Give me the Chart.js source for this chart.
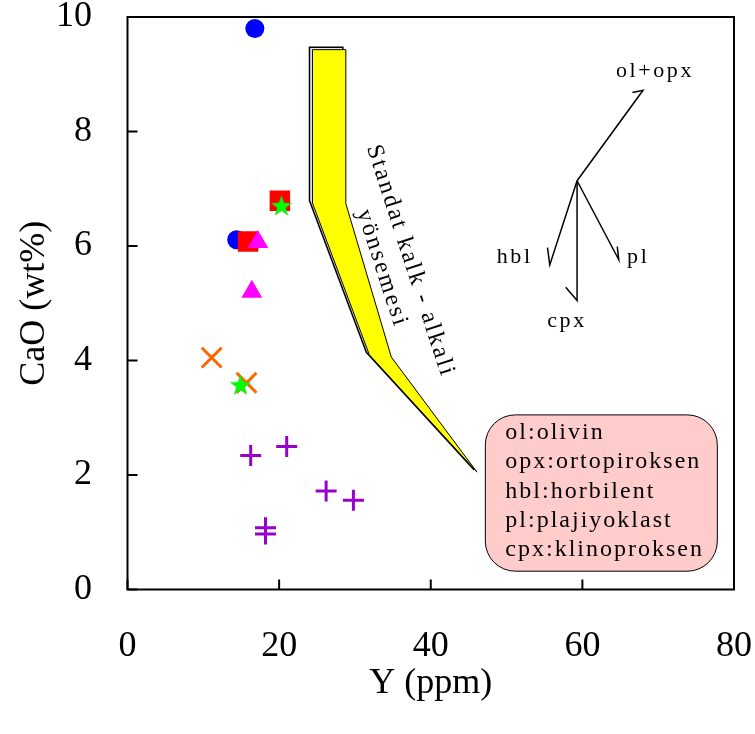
<!DOCTYPE html>
<html>
<head>
<meta charset="utf-8">
<script src="https://cdn.jsdelivr.net/npm/chart.js@4.4.0/dist/chart.umd.min.js"></script>
<style>
  html, body { margin: 0; padding: 0; background: #fff; }
</style>
</head>
<body>
<canvas id="chart" width="755" height="734"></canvas>
<script>
// Y (ppm) / CaO (wt%) per sample group
const circleY = [16.8, 14.4];
const circleCaO = [9.80, 6.11];
const squareY = [20.1, 15.9];
const squareCaO = [6.79, 6.08];
const triangleY = [17.2, 16.4];
const triangleCaO = [6.07, 5.20];
const starY = [20.3, 14.9];
const starCaO = [6.69, 3.56];
const crossY = [11.1, 15.7];
const crossCaO = [4.05, 3.61];
const plusY = [16.25, 21.0, 26.2, 29.8, 18.2, 18.2];
const plusCaO = [2.34, 2.50, 1.72, 1.56, 1.08, 0.97];

// calc-alkaline trend band outline
const bandY = [24.4, 24.4, 31.9, 46.1, 34.8, 28.8, 28.8];
const bandCaO = [9.43, 6.75, 4.10, 2.05, 4.06, 6.74, 9.43];

// fractionation vectors: start (centre) -> tip -> half arrow head
const vecCentre = [59.3, 7.14];
const vecNames = ['ol+opx', 'hbl', 'cpx', 'pl'];
const vecTipY = [68.0, 55.7, 59.3, 64.8];
const vecTipCaO = [8.72, 5.67, 5.05, 5.76];
const vecHeadY = [66.6, 55.4, 57.8, 64.6];
const vecHeadCaO = [8.68, 5.97, 5.28, 5.99];
const vecLabelY = [69.4, 50.9, 57.8, 67.2];
const vecLabelCaO = [9.06, 5.80, 4.69, 5.81];

const xTicks = [0, 20, 40, 60, 80];
const yTicks = [0, 2, 4, 6, 8, 10];

const legendLines = ['ol:olivin', 'opx:ortopiroksen', 'hbl:horbilent', 'pl:plajiyoklast', 'cpx:klinoproksen'];
const trendText = ['Standat kalk - alkali', 'yönsemesi'];

const pts = (xs, ys) => xs.map((x, i) => ({ x: x, y: ys[i] }));
const SERIF = '"Liberation Serif", "Times New Roman", serif';

// filled five point star for the green group
function makeStar(r, color) {
  const c = document.createElement('canvas');
  const s = Math.ceil(r * 2 + 2);
  c.width = s; c.height = s;
  const g = c.getContext('2d');
  g.beginPath();
  for (let i = 0; i < 10; i++) {
    const rad = i % 2 === 0 ? r : r * 0.4;
    const a = -Math.PI / 2 + i * Math.PI / 5;
    const px = s / 2 + rad * Math.cos(a), py = s / 2 + rad * Math.sin(a);
    if (i === 0) g.moveTo(px, py); else g.lineTo(px, py);
  }
  g.closePath();
  g.fillStyle = color;
  g.fill();
  g.strokeStyle = '#22cc22';
  g.lineWidth = 0.6;
  g.stroke();
  return c;
}

function spacedText(ctx, str, x, y, sp, align) {
  const chars = [...str];
  const w = chars.reduce((s, c) => s + ctx.measureText(c).width, 0) + sp * (chars.length - 1);
  let cx = align === 'center' ? x - w / 2 : (align === 'right' ? x - w : x);
  ctx.textAlign = 'left';
  for (const c of chars) {
    ctx.fillText(c, cx, y);
    cx += ctx.measureText(c).width + sp;
  }
}

function polygon(ctx, xs, ys, dx, dy) {
  ctx.beginPath();
  xs.forEach((p, i) => {
    if (i === 0) ctx.moveTo(p + dx, ys[i] + dy); else ctx.lineTo(p + dx, ys[i] + dy);
  });
  ctx.closePath();
}

const decor = {
  id: 'decor',
  beforeDatasetsDraw(chart) {
    const { ctx, scales: { x, y } } = chart;
    ctx.save();
    // trend band with its offset back face
    const bx = bandY.map(v => x.getPixelForValue(v));
    const by = bandCaO.map(v => y.getPixelForValue(v));
    polygon(ctx, bx, by, -3, -2.5);
    ctx.fillStyle = '#e6e6e6';
    ctx.fill();
    ctx.strokeStyle = '#000';
    ctx.lineWidth = 1.5;
    ctx.stroke();
    polygon(ctx, bx, by, 0, 0);
    ctx.fillStyle = '#ffff00';
    ctx.fill();
    ctx.lineWidth = 1;
    ctx.stroke();

    // rotated trend caption
    ctx.fillStyle = '#000';
    ctx.font = '24px ' + SERIF;
    ctx.textBaseline = 'middle';
    const rot = 72 * Math.PI / 180;
    [[410, 260], [381.7, 267.3]].forEach((c, i) => {
      ctx.save();
      ctx.translate(c[0], c[1]);
      ctx.rotate(rot);
      spacedText(ctx, trendText[i], 0, 0, 2.4, 'center');
      ctx.restore();
    });

    // vector labels
    ctx.font = '22px ' + SERIF;
    vecNames.forEach((n, i) => {
      spacedText(ctx, n, x.getPixelForValue(vecLabelY[i]), y.getPixelForValue(vecLabelCaO[i]), 2.6, 'center');
    });

    // mineral key box
    const l = x.getPixelForValue(47.2), r = x.getPixelForValue(77.8);
    const t = y.getPixelForValue(3.05), b = y.getPixelForValue(0.32);
    const rad = 30;
    ctx.beginPath();
    ctx.moveTo(l + rad, t);
    ctx.arcTo(r, t, r, b, rad);
    ctx.arcTo(r, b, l, b, rad);
    ctx.arcTo(l, b, l, t, rad);
    ctx.arcTo(l, t, r, t, rad);
    ctx.closePath();
    ctx.fillStyle = '#ffcccc';
    ctx.fill();
    ctx.strokeStyle = '#000';
    ctx.lineWidth = 1;
    ctx.stroke();
    ctx.fillStyle = '#000';
    ctx.font = '24px ' + SERIF;
    ctx.textBaseline = 'alphabetic';
    legendLines.forEach((s, i) => spacedText(ctx, s, l + 20, t + 24 + i * 29.4, 2.0, 'left'));
    ctx.restore();
  },
  afterDraw(chart) {
    const { ctx, chartArea: a, scales: { x, y } } = chart;
    ctx.save();
    ctx.strokeStyle = '#000';
    ctx.lineWidth = 2;
    ctx.strokeRect(a.left, a.top, a.right - a.left, a.bottom - a.top);
    ctx.beginPath();
    xTicks.forEach(v => {
      const p = x.getPixelForValue(v);
      ctx.moveTo(p, a.bottom);
      ctx.lineTo(p, a.bottom - 10);
    });
    yTicks.forEach(v => {
      const p = y.getPixelForValue(v);
      ctx.moveTo(a.left, p);
      ctx.lineTo(a.left + 10, p);
    });
    ctx.stroke();
    ctx.restore();
  }
};

const vectorSets = vecNames.map((n, i) => ({
  label: n,
  type: 'line',
  data: [
    { x: vecCentre[0], y: vecCentre[1] },
    { x: vecTipY[i], y: vecTipCaO[i] },
    { x: vecHeadY[i], y: vecHeadCaO[i] }
  ],
  borderColor: '#000',
  borderWidth: 1.5,
  pointRadius: 0,
  fill: false,
  tension: 0,
  order: 20
}));

new Chart(document.getElementById('chart'), {
  type: 'scatter',
  data: {
    datasets: [
      ...vectorSets,
      { label: 'circle', data: pts(circleY, circleCaO), pointStyle: 'circle', pointRadius: 9.5,
        backgroundColor: '#0000ff', borderWidth: 0, order: 6 },
      { label: 'square', data: pts(squareY, squareCaO), pointStyle: 'rect', pointRadius: 14.5,
        backgroundColor: '#ff0000', borderWidth: 0, order: 5 },
      { label: 'triangle', data: pts(triangleY, triangleCaO), pointStyle: 'triangle', pointRadius: 12,
        backgroundColor: '#ff00ff', borderWidth: 0, order: 4 },
      { label: 'x', data: pts(crossY, crossCaO), pointStyle: 'crossRot', pointRadius: 14,
        borderColor: '#ff6600', borderWidth: 3, order: 3 },
      { label: 'star', data: pts(starY, starCaO), pointStyle: makeStar(10.5, '#00ff00'), order: 2 },
      { label: 'plus', data: pts(plusY, plusCaO), pointStyle: 'cross', pointRadius: 10.5,
        borderColor: '#9900cc', borderWidth: 3, order: 1 }
    ]
  },
  options: {
    responsive: false,
    devicePixelRatio: 1,
    animation: false,
    layout: { autoPadding: false, padding: { left: 13, top: 17, right: 21, bottom: 32 } },
    plugins: { legend: { display: false }, tooltip: { enabled: false } },
    scales: {
      x: {
        type: 'linear', min: 0, max: 80,
        afterBuildTicks: s => { s.ticks = xTicks.map(v => ({ value: v })); },
        afterFit: s => { s.height = 112.5; s.paddingLeft = 0; s.paddingRight = 0; },
        grid: { display: false, drawTicks: false },
        border: { display: false },
        ticks: { color: '#000', padding: 39.5, font: { family: SERIF, size: 36, lineHeight: 1 } },
        title: { display: true, text: 'Y (ppm)', color: '#000', padding: 0,
          font: { family: SERIF, size: 36, lineHeight: 1 } }
      },
      y: {
        type: 'linear', min: 0, max: 10,
        afterBuildTicks: s => { s.ticks = yTicks.map(v => ({ value: v })); },
        afterFit: s => { s.width = 114.5; s.paddingTop = 0; s.paddingBottom = 0; },
        grid: { display: false, drawTicks: false },
        border: { display: false },
        ticks: { color: '#000', padding: 35.5, font: { family: SERIF, size: 36, lineHeight: 0.9 } },
        title: { display: true, text: 'CaO (wt%)', color: '#000', padding: 0,
          font: { family: SERIF, size: 36, lineHeight: 1.2 } }
      }
    }
  },
  plugins: [decor]
});
</script>
</body>
</html>
